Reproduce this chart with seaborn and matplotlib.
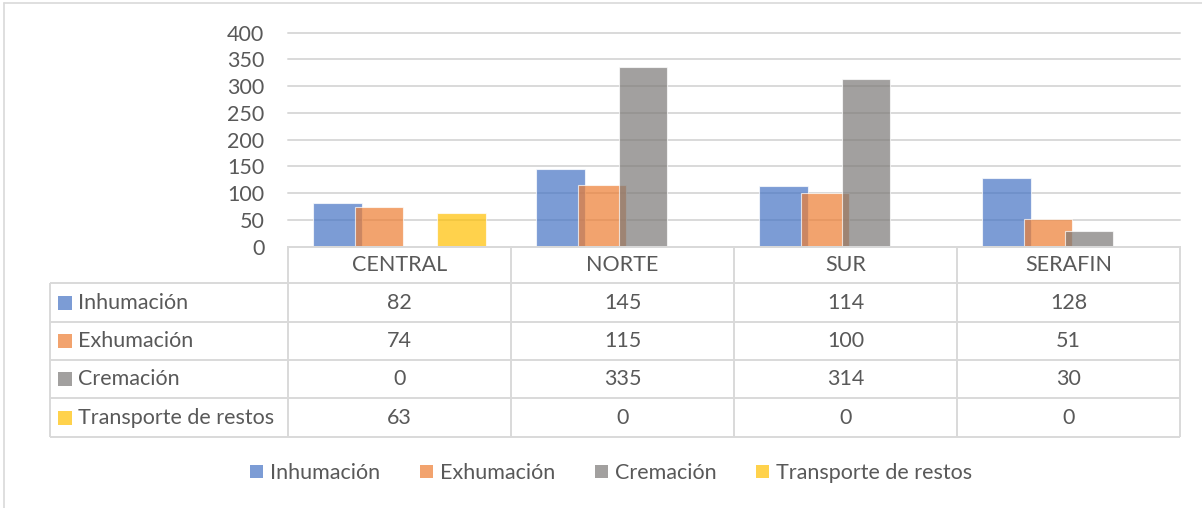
import matplotlib

matplotlib.use("Agg")
import matplotlib.pyplot as plt
import numpy as np
import pandas as pd
import seaborn as sns
from matplotlib.patches import Patch

zonas = ["CENTRAL", "NORTE", "SUR", "SERAFIN"]
servicios = ["Inhumación", "Exhumación", "Cremación", "Transporte de restos"]
inhumacion = [82, 145, 114, 128]
exhumacion = [74, 115, 100, 51]
cremacion = [0, 335, 314, 30]
transporte = [63, 0, 0, 0]
y_ticks = [0, 50, 100, 150, 200, 250, 300, 350, 400]

colores = ["#4472C4", "#ED7D31", "#7B7876", "#FFC000"]
ALPHA = 0.7
TEXT = "#595959"
LINE = "#D9D9D9"
FS = 15.5

sns.set_style("white")
plt.rcParams["font.family"] = ["Lato", "DejaVu Sans"]

W, H = 1202, 508


def fig_box(x0, y0, x1, y1):
    # pixel box (top-left origin) -> figure fraction rect
    return [x0 / W, 1 - y1 / H, (x1 - x0) / W, (y1 - y0) / H]


valores = [inhumacion, exhumacion, cremacion, transporte]
df = pd.DataFrame(
    [(z, s, v[i]) for s, v in zip(servicios, valores) for i, z in enumerate(zonas)],
    columns=["zona", "servicio", "valor"],
)

fig = plt.figure(figsize=(W / 100, H / 100), dpi=100)

# outer chart border (left/top visible in the crop)
fig.add_artist(plt.Line2D([4 / W, 4 / W], [0, 1 - 3 / H], color=LINE, lw=1.2))
fig.add_artist(plt.Line2D([4 / W, 1], [1 - 3 / H, 1 - 3 / H], color=LINE, lw=1.2))

# ---- bar area
ax = fig.add_axes(fig_box(288, 32.7, 1180, 246.7))
step = 0.186
sns.barplot(
    data=df, x="zona", y="valor", hue="servicio", hue_order=servicios,
    palette=colores, saturation=1, width=step * 4, alpha=ALPHA,
    edgecolor="white", linewidth=0.8, errorbar=None, legend=False,
    ax=ax, zorder=2,
)
bar_w = 0.2175
for p in ax.patches:
    c = p.get_x() + p.get_width() / 2
    p.set_x(c - bar_w / 2)
    p.set_width(bar_w)

ax.set_xlim(-0.5, 3.5)
ax.set_ylim(0, 400)
ax.set_yticks(y_ticks)
ax.set_yticklabels([str(t) for t in y_ticks], fontsize=FS, color=TEXT)
ax.tick_params(axis="y", length=0, pad=17)
ax.set_xticks([])
ax.set_xlabel("")
ax.set_ylabel("")
ax.grid(axis="y", color=LINE, lw=1.4, zorder=0)
ax.set_axisbelow(True)
for gl in ax.get_ygridlines():
    gl.set_clip_on(False)
for side in ["left", "right", "top"]:
    ax.spines[side].set_visible(False)
ax.spines["bottom"].set_color(LINE)
ax.spines["bottom"].set_linewidth(1.4)
ax.spines["bottom"].set_zorder(3)

# ---- data table
tx0 = -0.5 - (288 - 50) / 223
tab = fig.add_axes(fig_box(50, 247, 1180, 437))
tab.set_xlim(tx0, 3.5)
tab.set_ylim(437, 247)
tab.axis("off")
rows = [247, 283, 322, 360, 398, 437]
kw = dict(color=LINE, lw=1.4, clip_on=False)
tab.hlines(rows[0], -0.5, 3.5, **kw)
tab.hlines(rows[1:], tx0, 3.5, **kw)
tab.vlines(np.arange(-0.5, 4), rows[0], rows[-1], **kw)
tab.vlines(tx0, rows[1], rows[-1], **kw)

for i, z in enumerate(zonas):
    tab.text(i, (rows[0] + rows[1]) / 2, z, ha="center", va="center",
             fontsize=FS, color=TEXT)
px = 1 / 223
for r, (s, v, c) in enumerate(zip(servicios, valores, colores)):
    yc = (rows[r + 1] + rows[r + 2]) / 2
    tab.scatter([tx0 + 14.5 * px], [yc], marker="s", s=88, color=c,
                alpha=ALPHA, linewidths=0, clip_on=False)
    tab.text(tx0 + 28 * px, yc, s, ha="left", va="center", fontsize=FS, color=TEXT)
    for i, val in enumerate(v):
        tab.text(i, yc, str(val), ha="center", va="center", fontsize=FS, color=TEXT)

# ---- legend
handles = [Patch(facecolor=c, alpha=ALPHA, edgecolor="none") for c in colores]
fig.legend(
    handles, servicios, loc="center", bbox_to_anchor=(611 / W, 1 - 473 / H),
    ncol=4, frameon=False, fontsize=FS, labelcolor=TEXT,
    handlelength=0.6, handleheight=0.6, handletextpad=0.33, columnspacing=1.85,
)

fig.savefig("out.png", dpi=100)
